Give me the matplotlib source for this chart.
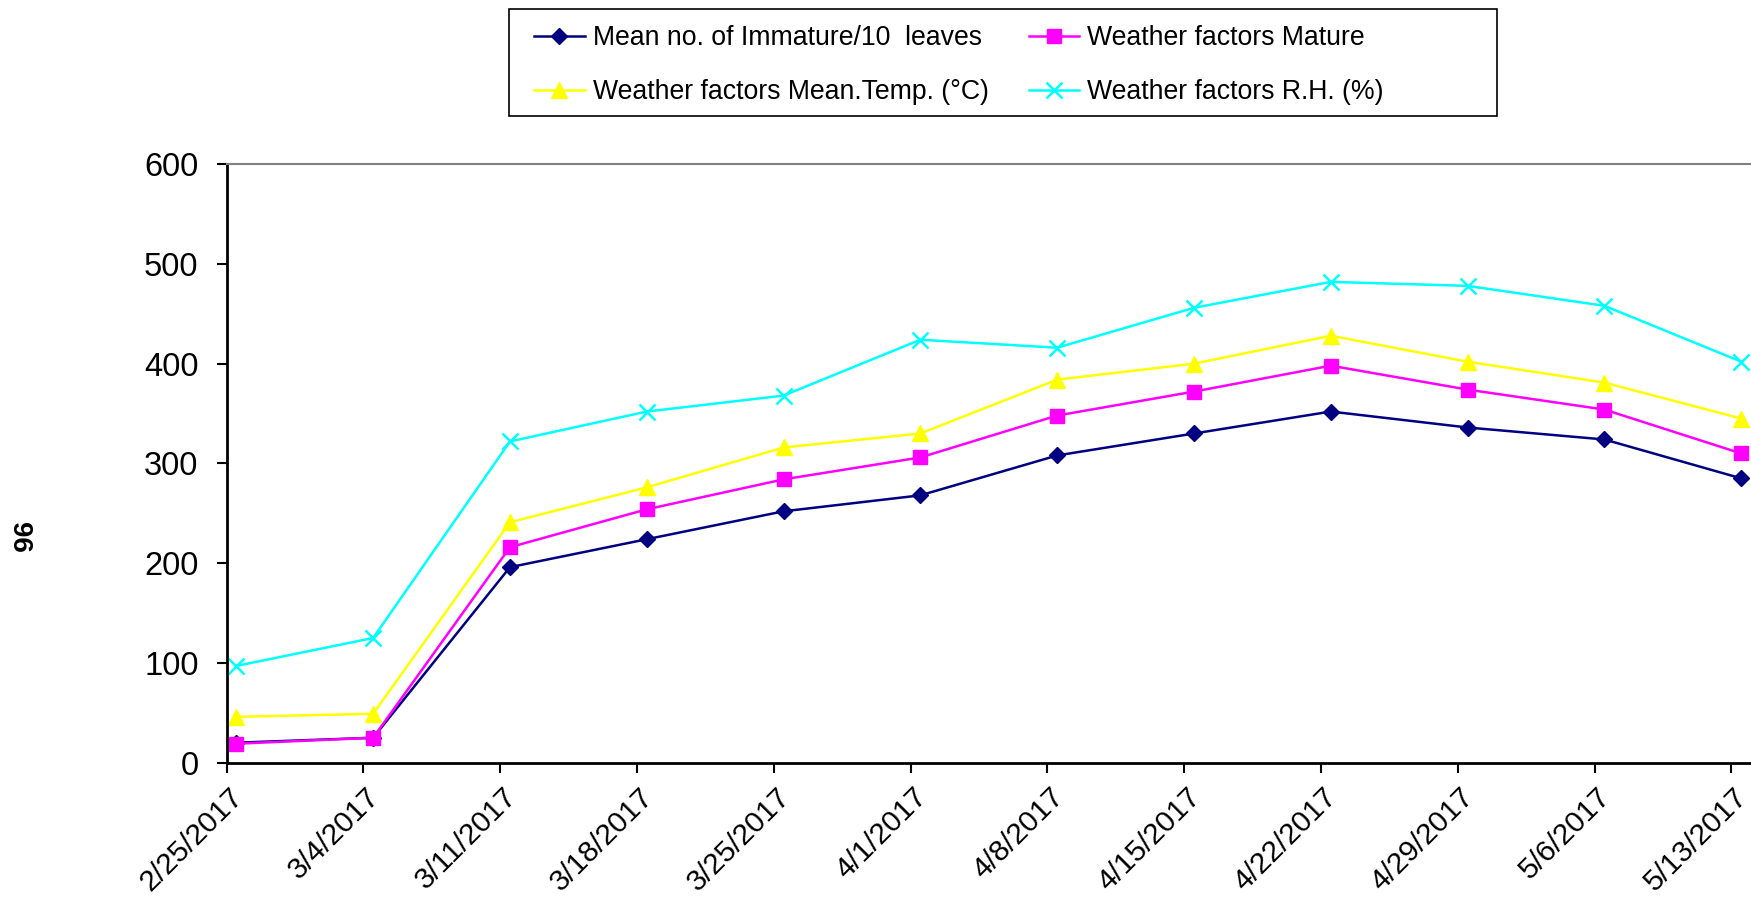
import matplotlib
matplotlib.use("Agg")
import matplotlib.pyplot as plt
import matplotlib.transforms as mtransforms
from matplotlib.patches import Rectangle
import pandas as pd

plt.rcParams["font.family"] = ["Liberation Sans", "DejaVu Sans"]

date_labels = ["2/25/2017", "3/4/2017", "3/11/2017", "3/18/2017", "3/25/2017", "4/1/2017",
               "4/8/2017", "4/15/2017", "4/22/2017", "4/29/2017", "5/6/2017", "5/13/2017"]

immature = [20, 25, 196, 224, 252, 268, 308, 330, 352, 336, 324, 285]
mature = [19, 25, 216, 254, 284, 306, 348, 372, 398, 374, 354, 310]
mean_temp = [46, 49, 241, 276, 316, 330, 384, 400, 428, 402, 381, 345]
rel_hum = [97, 125, 322, 352, 368, 424, 416, 456, 482, 478, 458, 402]

series_names = ["Mean no. of Immature/10  leaves", "Weather factors Mature",
                "Weather factors Mean.Temp. (°C)", "Weather factors R.H. (%)"]

dates = pd.to_datetime(date_labels, format="%m/%d/%Y")
# excel date axis puts each point in the middle of its day
x_pts = dates + pd.Timedelta(hours=12)

fig = plt.figure(figsize=(17.51, 9.06), dpi=100)
ax = fig.add_axes([0.1294, 0.1582, 0.8706, 0.6606])

l1, = ax.plot(x_pts, immature, color="#000080", lw=1.8, marker="D", ms=8.5, label=series_names[0])
l2, = ax.plot(x_pts, mature, color="#FF00FF", lw=1.8, marker="s", ms=10.5, label=series_names[1])
l3, = ax.plot(x_pts, mean_temp, color="#FFFF00", lw=1.8, marker="^", ms=11, label=series_names[2])
l4, = ax.plot(x_pts, rel_hum, color="#00FFFF", lw=1.8, marker="x", ms=12, mew=1.8, label=series_names[3])

ax.set_ylim(0, 600)
ax.set_yticks([0, 100, 200, 300, 400, 500, 600])
ax.set_xlim(dates[0], dates[-1] + pd.Timedelta(days=1))
ax.set_xticks(dates)
ax.set_xticklabels(date_labels, rotation=45, ha="right", rotation_mode="anchor")

ax.tick_params(axis="both", length=7.2, width=1.5, color="black")
ax.tick_params(axis="y", labelsize=23.5, pad=13)
ax.tick_params(axis="x", labelsize=21.5, pad=7)
shift = mtransforms.ScaledTranslation(0.02, 0, fig.dpi_scale_trans)
for lab in ax.get_xticklabels():
    lab.set_transform(lab.get_transform() + shift)

ax.spines["right"].set_visible(False)
ax.spines["top"].set_color("#808080")
ax.spines["top"].set_linewidth(1.5)
ax.spines["left"].set_linewidth(2)
ax.spines["bottom"].set_linewidth(2)

# legend is filled row by row in the original, its frame is wider than the entries
fig.legend([l1, l3, l2, l4], [series_names[0], series_names[2], series_names[1], series_names[3]],
           loc="upper left", bbox_to_anchor=(534 / 1751, 1 - 25 / 906), ncol=2,
           fontsize=19.2, frameon=False,
           handlelength=1.9, handletextpad=0.3, columnspacing=1.5,
           labelspacing=1.05, borderpad=0, borderaxespad=0)
fig.patches.append(Rectangle((509 / 1751, 1 - 116 / 906), 988 / 1751, 107 / 906,
                             transform=fig.transFigure, fill=False, edgecolor="black", lw=1.2))

fig.text(19 / 1751, 1 - 537 / 906, "96", rotation=-90, fontsize=20, fontweight="bold",
         ha="center", va="center")

fig.savefig("out.png", dpi=100)
